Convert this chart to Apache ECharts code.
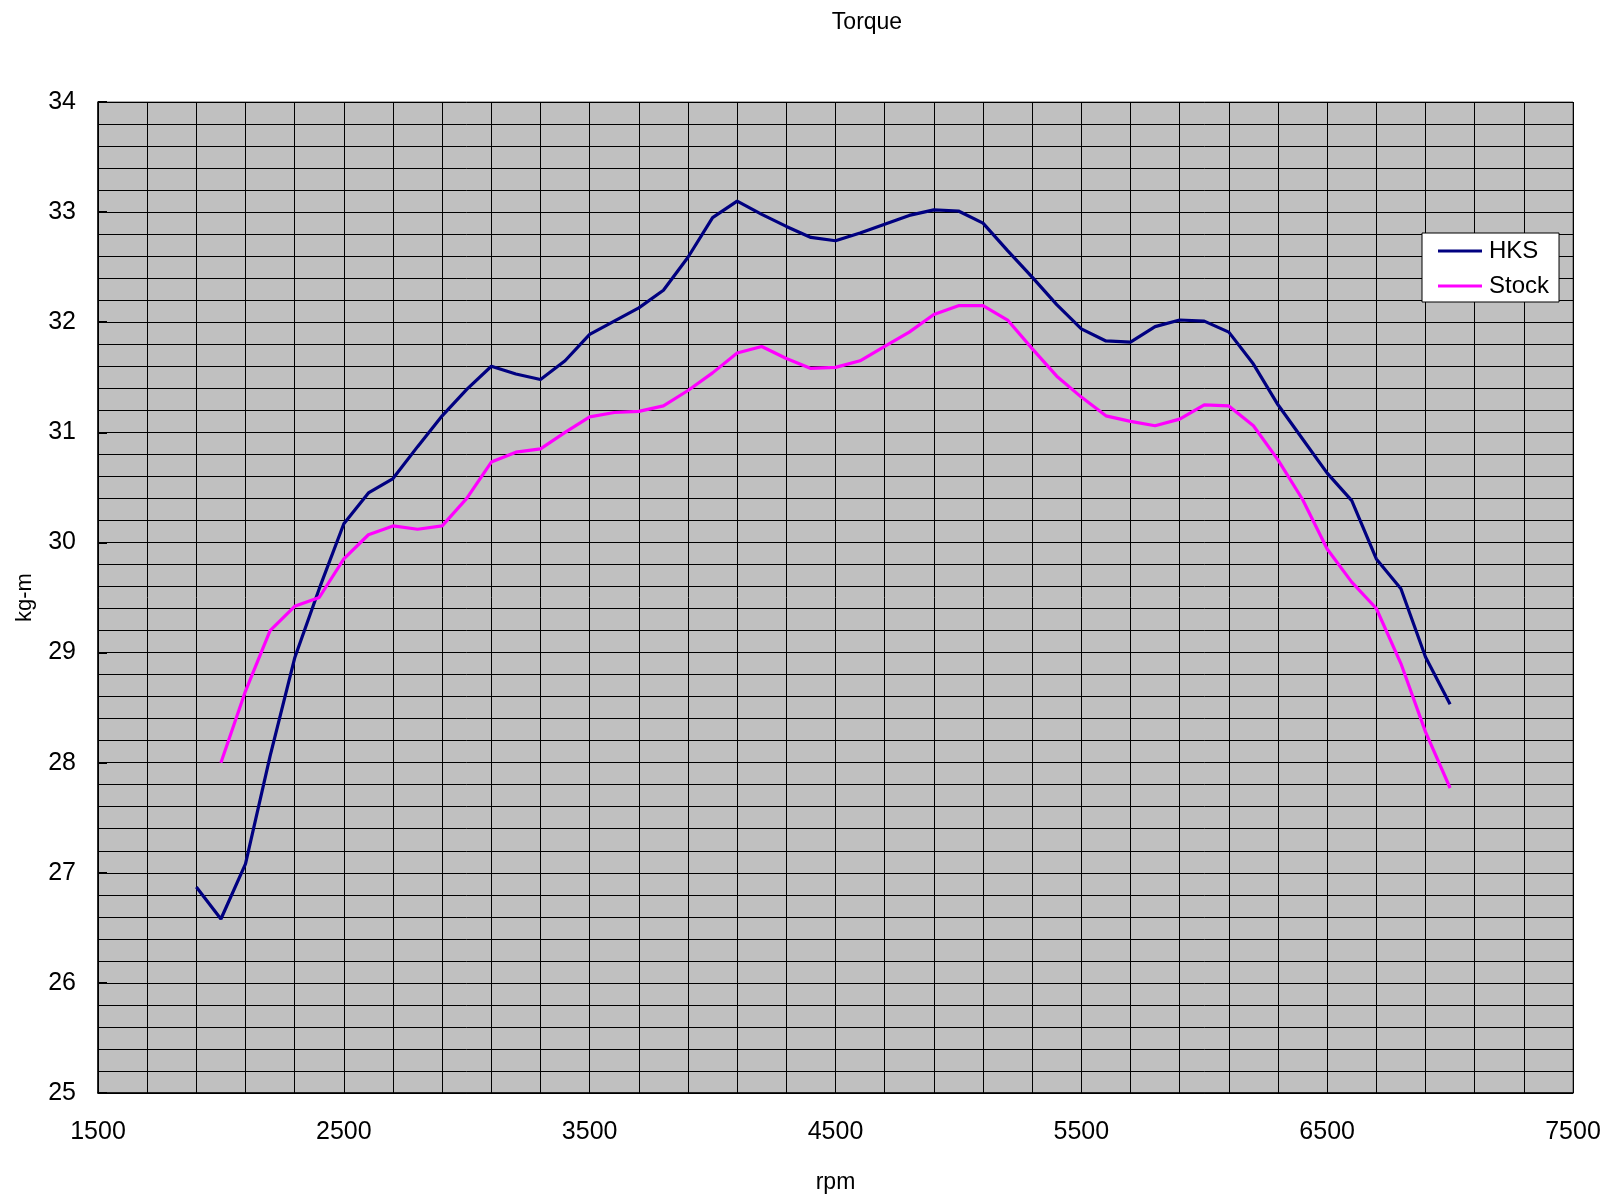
<!DOCTYPE html>
<html>
<head>
<meta charset="utf-8">
<script src="https://cdn.jsdelivr.net/npm/echarts@6/dist/echarts.min.js"></script>
<style>
html,body{margin:0;padding:0;background:#fff;}
#chart{width:1610px;height:1199px;}
</style>
</head>
<body>
<div id="chart"></div>
<script>
const rpm = [1900,2000,2100,2200,2300,2400,2500,2600,2700,2800,2900,3000,3100,3200,3300,3400,3500,3600,3700,3800,3900,4000,4100,4200,4300,4400,4500,4600,4700,4800,4900,5000,5100,5200,5300,5400,5500,5600,5700,5800,5900,6000,6100,6200,6300,6400,6500,6600,6700,6800,6900,7000];
const hks = [26.87,26.58,27.08,28.06,28.95,29.58,30.17,30.45,30.58,30.87,31.15,31.39,31.60,31.53,31.48,31.65,31.89,32.01,32.13,32.29,32.59,32.95,33.10,32.98,32.87,32.77,32.74,32.81,32.89,32.97,33.02,33.01,32.90,32.65,32.41,32.16,31.94,31.83,31.82,31.96,32.02,32.01,31.91,31.62,31.25,30.94,30.63,30.38,29.85,29.58,28.96,28.53];
const stock = [null,28.00,28.65,29.20,29.42,29.50,29.85,30.07,30.15,30.12,30.15,30.40,30.73,30.82,30.85,31.00,31.14,31.18,31.19,31.24,31.38,31.54,31.72,31.78,31.67,31.58,31.59,31.65,31.78,31.91,32.07,32.15,32.15,32.02,31.76,31.51,31.32,31.15,31.10,31.06,31.12,31.25,31.24,31.06,30.75,30.39,29.94,29.64,29.40,28.90,28.28,27.77];
const seriesNames = ['HKS','Stock'];
const titleText = 'Torque';
const xName = 'rpm';
const yName = 'kg-m';

const font = 'Liberation Sans, Arial, sans-serif';
const chart = echarts.init(document.getElementById('chart'));
const pair = (xs, ys) => xs.map((x, i) => [x, ys[i]]).filter(p => p[1] !== null);

chart.setOption({
  animation: false,
  backgroundColor: '#ffffff',
  title: {
    text: titleText,
    left: 862, top: 6, textAlign: 'center',
    textStyle: {fontFamily: font, fontSize: 23, fontWeight: 'normal', color: '#000'}
  },
  legend: {
    data: seriesNames,
    orient: 'vertical',
    left: 1422, top: 233,
    padding: [6, 10, 4, 16],
    itemGap: 11,
    itemWidth: 44, itemHeight: 3,
    icon: 'rect',
    backgroundColor: '#ffffff',
    borderColor: '#000', borderWidth: 1,
    textStyle: {fontFamily: font, fontSize: 24, color: '#000', padding: [0,0,0,2]}
  },
  grid: {
    left: 98, right: 37, top: 102, bottom: 96,
    show: true, backgroundColor: '#c0c0c0', borderColor: '#555', borderWidth: 1
  },
  xAxis: {
    type: 'value', min: 1500, max: 7500, interval: 1000,
    name: xName, nameLocation: 'middle', nameGap: 78,
    nameTextStyle: {fontFamily: font, fontSize: 23, color: '#000'},
    axisLine: {show: true, onZero: false, lineStyle: {color: '#000', width: 1.5}},
    axisTick: {show: false},
    axisLabel: {fontFamily: font, fontSize: 25, color: '#000', margin: 27, formatter: v => String(v)},
    splitLine: {show: true, lineStyle: {color: '#000', width: 1}},
    minorTick: {show: false, splitNumber: 5},
    minorSplitLine: {show: true, lineStyle: {color: '#000', width: 1}}
  },
  yAxis: {
    type: 'value', min: 25, max: 34, interval: 1,
    name: yName, nameLocation: 'middle', nameGap: 62,
    nameTextStyle: {fontFamily: font, fontSize: 22, color: '#000', padding: [0, 0, 0, 0]},
    axisLine: {show: true, lineStyle: {color: '#000', width: 1.5}},
    axisTick: {show: true, inside: true, length: 9, lineStyle: {color: '#000', width: 2}},
    axisLabel: {fontFamily: font, fontSize: 25, color: '#000', margin: 22},
    splitLine: {show: true, lineStyle: {color: '#000', width: 1}},
    minorTick: {show: false, splitNumber: 5},
    minorSplitLine: {show: true, lineStyle: {color: '#000', width: 1}}
  },
  series: [
    {
      name: seriesNames[0], type: 'line', data: pair(rpm, hks),
      showSymbol: false, symbol: 'none',
      lineStyle: {color: '#000080', width: 3.2}, itemStyle: {color: '#000080'}
    },
    {
      name: seriesNames[1], type: 'line', data: pair(rpm, stock),
      showSymbol: false, symbol: 'none',
      lineStyle: {color: '#ff00ff', width: 3.2}, itemStyle: {color: '#ff00ff'}
    }
  ]
});
</script>
</body>
</html>
